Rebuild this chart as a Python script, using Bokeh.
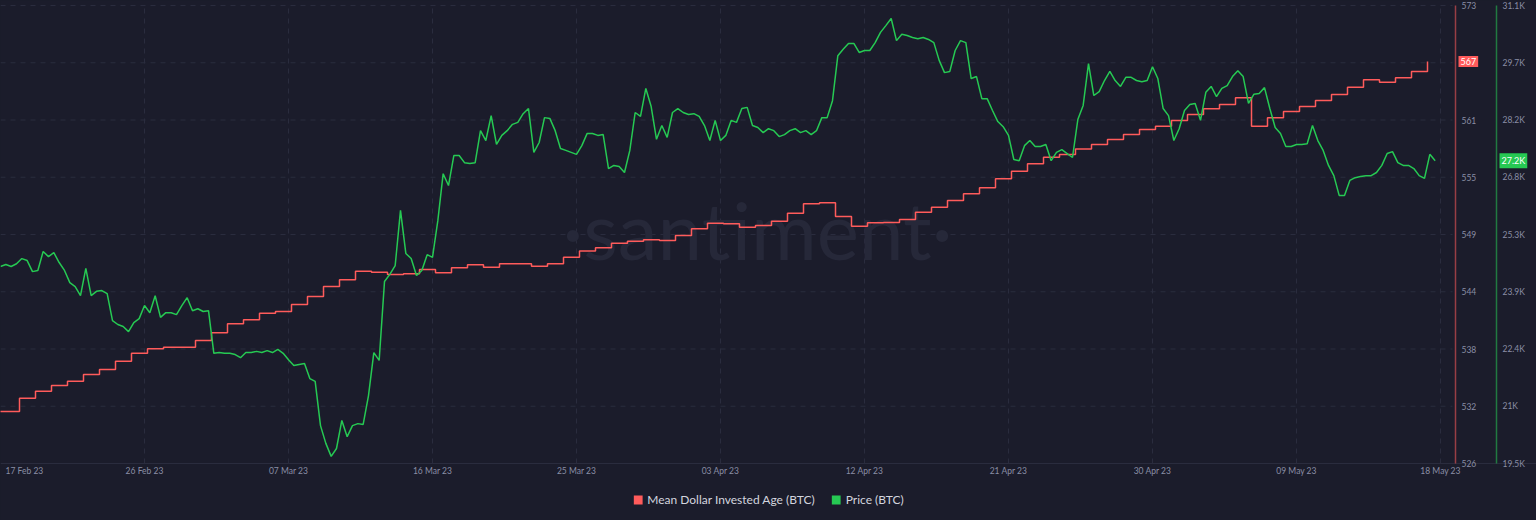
import pandas as pd
from bokeh.plotting import figure
from bokeh.models import Range1d, Label, Legend, LegendItem
from bokeh.core.properties import value
from bokeh.embed import file_html
from bokeh.resources import INLINE

# ---------------- data ----------------
series_names = ["Mean Dollar Invested Age (BTC)", "Price (BTC)"]

# Price (BTC), one reading every 8 hours from 17 Feb 2023 00:00
price_start = "2023-02-17 00:00"
price_step_hours = 8
price = [
    24490, 24540, 24490, 24560, 24690, 24640, 24360, 24390, 24870, 24740,
    24840, 24590, 24390, 24080, 23980, 23750, 24440, 23750, 23860, 23880,
    23800, 23120, 23020, 22970, 22840, 23070, 23170, 23500, 23320, 23750,
    23200, 23320, 23320, 23270, 23500, 23700, 23370, 23420, 23350, 23370,
    22290, 22310, 22290, 22290, 22260, 22180, 22310, 22310, 22340, 22310,
    22360, 22310, 22390, 22290, 22130, 21980, 22010, 22030, 21650, 21580,
    20460, 20010, 19680, 19880, 20590, 20180, 20460, 20510, 20490, 21220,
    22310, 22110, 24110, 24290, 24510, 25910, 24820, 24690, 24260, 24390,
    24790, 24720, 25650, 26840, 26540, 27300, 27300, 27120, 27100, 27120,
    27930, 27680, 28310, 27580, 27810, 27930, 28090, 28140, 28360, 28490,
    27380, 27630, 28260, 28240, 27930, 27480, 27430, 27380, 27330, 27550,
    27860, 27860, 27810, 27830, 26970, 27050, 27020, 26870, 27430, 28390,
    28290, 29000, 28540, 27710, 28060, 27760, 28390, 28490, 28390, 28340,
    28360, 28290, 28060, 27680, 28190, 27680, 27810, 28190, 28140, 28490,
    28520, 28060, 28010, 27880, 27980, 27930, 27780, 27830, 27930, 27980,
    27880, 27930, 27830, 27930, 28260, 28260, 28690, 29830, 29990, 30140,
    30140, 29910, 29960, 29960, 30160, 30420, 30590, 30770, 30210, 30370,
    30340, 30290, 30260, 30290, 30240, 30160, 29710, 29400, 29430, 29960,
    30210, 30160, 29250, 29300, 28740, 28740, 28440, 28160, 28030, 27810,
    27200, 27170, 27550, 27680, 27530, 27530, 27580, 27170, 27380, 27450,
    27350, 27250, 28210, 28570, 29630, 28820, 28920, 29200, 29430, 29200,
    29050, 29280, 29280, 29200, 29170, 29200, 29550, 29250, 28490, 28310,
    27680, 27980, 28440, 28590, 28620, 28190, 28900, 29050, 28790, 29000,
    29070, 29300, 29450, 29300, 28620, 28850, 28870, 29020, 28490, 28010,
    27860, 27530, 27530, 27580, 27580, 27600, 28060, 27680, 27430, 27050,
    26790, 26290, 26290, 26670, 26740, 26770, 26790, 26790, 26870, 27050,
    27350, 27400, 27120, 27050, 27050, 26970, 26790, 26720, 27330, 27170,
]

# Mean Dollar Invested Age (BTC), daily values starting 16 Feb 2023
mdia_start = "2023-02-16 04:30"
mdia = [
    531.34, 531.34, 532.70, 533.42, 534.00, 534.44, 535.13, 535.65, 536.50, 537.32,
    537.77, 537.94, 537.94, 538.62, 539.41, 540.34, 540.75, 541.42, 541.60, 542.32,
    543.14, 544.16, 544.85, 545.73, 545.63, 545.39, 545.47, 545.91, 545.57, 546.08,
    546.39, 546.14, 546.49, 546.49, 546.24, 546.49, 547.17, 547.80, 548.13, 548.61,
    548.81, 548.95, 548.88, 549.40, 550.08, 550.66, 550.60, 550.25, 550.42, 550.86,
    551.68, 552.65, 552.75, 551.35, 550.35, 550.70, 550.73, 551.04, 551.79, 552.30,
    552.99, 553.67, 554.29, 555.21, 556.00, 556.76, 557.43, 557.71, 558.27, 558.74,
    559.25, 559.76, 560.28, 560.61, 561.20, 561.81, 562.40, 562.84, 563.53, 560.61,
    561.48, 562.12, 562.63, 563.25, 563.86, 564.62, 565.37, 565.13, 565.58, 566.23,
    567.25,
]

x_tick_dates = ["2023-02-17", "2023-02-26", "2023-03-07", "2023-03-16", "2023-03-25",
                "2023-04-03", "2023-04-12", "2023-04-21", "2023-04-30", "2023-05-09",
                "2023-05-18"]
x_view_start = "2023-02-17 00:00"

mdia_ticks = [526, 531.875, 537.75, 543.625, 549.5, 555.375, 561.25, 567.125, 573]
mdia_tick_labels = ["526", "532", "538", "544", "549", "555", "561", "567", "573"]
price_ticks = [19500, 20950, 22400, 23850, 25300, 26750, 28200, 29650, 31100]
price_tick_labels = ["19.5K", "21K", "22.4K", "23.9K", "25.3K", "26.8K", "28.2K", "29.7K", "31.1K"]

# ---------------- layout / style ----------------
BG = "#1b1c2b"
RED = "#ff5b5b"
GREEN = "#26c953"
TICK = "#8a8ea5"
GRID = "#2a2c3e"
FONT = "Lato"
TICK_SIZE = "8.5px"

FRAME_W, FRAME_H = 1536, 520
PX_PER_DAY = 16.0
PLOT_TOP, PLOT_BOTTOM, PLOT_RIGHT = 5, 463, 1452
RED_AXIS_PX, GREEN_AXIS_PX = 1455, 1496
X_LABEL_PY = 470
DAY_MS = 86400000.0
T0_MS = pd.Timestamp(x_view_start).value / 1e6
NAN = float("nan")

m_pp = (mdia_ticks[-1] - mdia_ticks[0]) / (PLOT_BOTTOM - PLOT_TOP)
p_pp = (price_ticks[-1] - price_ticks[0]) / (PLOT_BOTTOM - PLOT_TOP)


def px_ms(px):
    return T0_MS + px / PX_PER_DAY * DAY_MS


def mdia_at(py):
    return mdia_ticks[-1] - (py - PLOT_TOP) * m_pp


price_dates = pd.date_range(price_start, periods=len(price), freq=f"{price_step_hours}h")
mdia_dates = pd.date_range(mdia_start, periods=len(mdia), freq="D")
tick_ms = [pd.Timestamp(d).value / 1e6 for d in x_tick_dates]
tick_text = [pd.Timestamp(d).strftime("%d %b %y") for d in x_tick_dates]

p = figure(frame_width=FRAME_W, frame_height=FRAME_H,
           x_range=Range1d(T0_MS, px_ms(FRAME_W)),
           y_range=Range1d(mdia_at(FRAME_H), mdia_at(0)),
           x_axis_location=None, y_axis_location=None,
           output_backend="svg", toolbar_location=None,
           background_fill_color=BG, border_fill_color=BG,
           min_border_left=0, min_border_top=0, min_border_right=0, min_border_bottom=0)
p.outline_line_color = None
p.grid.visible = False
p.extra_y_ranges = {"price": Range1d(price_ticks[0] - (FRAME_H - PLOT_BOTTOM) * p_pp,
                                     price_ticks[-1] + PLOT_TOP * p_pp)}

# watermark
p.add_layout(Label(x=px_ms(757), y=mdia_at(228), text="·santiment·", text_font=FONT,
                   text_font_size="80px", text_color="#262839", text_align="center",
                   text_baseline="middle", level="underlay"))

# grid lines
hy = mdia_ticks[1:]
p.segment(x0=[T0_MS] * len(hy), x1=[px_ms(PLOT_RIGHT)] * len(hy), y0=hy, y1=hy,
          line_color=GRID, line_dash="5 5", line_width=1, level="underlay")
vx = tick_ms[1:]
p.segment(x0=vx, x1=vx, y0=[mdia_ticks[0]] * len(vx), y1=[mdia_ticks[-1]] * len(vx),
          line_color=GRID, line_dash="5 5", line_width=1, level="underlay")
# bottom axis line
p.segment(x0=[T0_MS], x1=[px_ms(FRAME_W)], y0=[mdia_ticks[0]], y1=[mdia_ticks[0]],
          line_color=GRID, line_width=1, level="underlay")

# series
p.step(mdia_dates, mdia, mode="after", line_color=RED, line_width=1.5)
p.line(price_dates, price, y_range_name="price", line_color=GREEN, line_width=1.5)

# right axes (lines + labels)
p.segment(x0=[px_ms(RED_AXIS_PX)], x1=[px_ms(RED_AXIS_PX)], y0=[mdia_ticks[0]], y1=[mdia_ticks[-1]],
          line_color=RED, line_alpha=0.55, line_width=1.5)
p.segment(x0=[px_ms(GREEN_AXIS_PX)], x1=[px_ms(GREEN_AXIS_PX)], y0=[price_ticks[0]], y1=[price_ticks[-1]],
          line_color=GREEN, line_alpha=0.55, line_width=1.5, y_range_name="price")
p.text(x=[px_ms(RED_AXIS_PX)] * len(mdia_ticks), y=mdia_ticks, text=mdia_tick_labels,
       x_offset=6, text_font=value(FONT), text_font_size=value(TICK_SIZE), text_color=TICK,
       text_align="left", text_baseline="middle")
p.text(x=[px_ms(GREEN_AXIS_PX)] * len(price_ticks), y=price_ticks, text=price_tick_labels,
       x_offset=6, text_font=value(FONT), text_font_size=value(TICK_SIZE), text_color=TICK,
       text_align="left", text_baseline="middle", y_range_name="price")

# x axis labels
y_lab = mdia_at(X_LABEL_PY)
p.text(x=tick_ms[:1], y=[y_lab], text=tick_text[:1], x_offset=5,
       text_font=value(FONT), text_font_size=value(TICK_SIZE), text_color=TICK,
       text_align="left", text_baseline="middle")
p.text(x=tick_ms[1:], y=[y_lab] * (len(tick_ms) - 1), text=tick_text[1:],
       text_font=value(FONT), text_font_size=value(TICK_SIZE), text_color=TICK,
       text_align="center", text_baseline="middle")

# last-value badges
p.add_layout(Label(x=px_ms(RED_AXIS_PX), y=mdia[-1], x_offset=3,
                   text=f"{mdia[-1]:.0f}", text_font=FONT, text_font_size="9px",
                   text_color="white", background_fill_color=RED,
                   text_align="left", text_baseline="middle", padding=2))
p.add_layout(Label(x=px_ms(GREEN_AXIS_PX), y=price[-1], x_offset=3, y_range_name="price",
                   text=f"{price[-1] / 1000:.1f}K", text_font=FONT, text_font_size="9px",
                   text_color="white", background_fill_color=GREEN,
                   text_align="left", text_baseline="middle", padding=2))

# legend with square swatches (renderers hold no drawable data)
r_sw = p.quad(left=[NAN], right=[NAN], top=[NAN], bottom=[NAN], fill_color=RED, line_color=None)
g_sw = p.quad(left=[NAN], right=[NAN], top=[NAN], bottom=[NAN], fill_color=GREEN, line_color=None)
legend = Legend(items=[LegendItem(label=series_names[0], renderers=[r_sw]),
                       LegendItem(label=series_names[1], renderers=[g_sw])],
                orientation="horizontal", location="bottom_center",
                background_fill_alpha=0, border_line_color=None,
                label_text_color="#d3d5df", label_text_font=FONT,
                label_text_font_size="12px", glyph_width=11, glyph_height=11,
                label_height=14, label_standoff=4, spacing=16, margin=13, padding=4)
p.add_layout(legend, "center")

html = file_html(p, INLINE)
html = html.replace("<head>", "<head><style>body{margin:0;background:%s;overflow:hidden}</style>" % BG, 1)
open("out.html", "w").write(html)
